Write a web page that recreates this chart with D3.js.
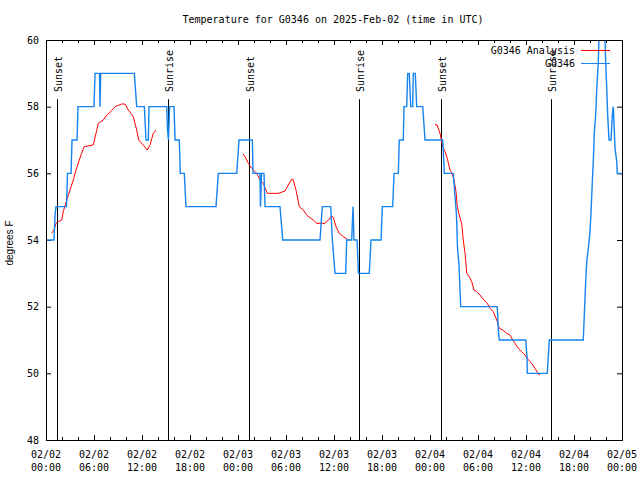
<!DOCTYPE html>
<html><head><meta charset="utf-8">
<script src="https://cdn.jsdelivr.net/npm/d3@7"></script>
<style>body{margin:0;background:#fff}</style>
</head><body>
<svg id="chart" width="640" height="480"></svg>
<script>
// ---- data ----
const titleText = "Temperature for G0346 on 2025-Feb-02 (time in UTC)";
const yLabel = "degrees F";
const startUTC = Date.UTC(2025, 1, 2);
const endUTC = Date.UTC(2025, 1, 5);

// Observations (hours since 02/02 00:00 UTC, degrees F)
const obsHours = [0,1.0,1.13,1.25,2.56,2.63,2.69,3.13,3.25,3.88,4.0,6.0,6.13,6.69,6.75,6.84,11.04,11.34,12.29,12.5,12.79,12.88,15.09,15.19,15.31,15.44,16.0,16.13,16.66,16.79,17.29,17.5,21.25,21.54,23.84,24.13,25.79,25.88,26.75,26.81,26.94,27.25,27.38,29.25,29.59,34.25,34.54,35.59,35.79,36.13,37.46,37.59,38.21,38.38,38.5,38.88,39.06,40.41,40.63,41.88,42.04,43.34,43.5,44.04,44.16,44.66,44.75,45.09,45.21,45.41,45.59,45.84,45.91,46.16,46.34,47.09,47.38,49.59,49.79,50.91,51.13,51.31,51.44,51.63,51.75,51.84,56.41,56.54,56.66,59.96,60.13,60.16,62.66,62.91,67.16,67.29,67.46,67.59,67.79,68.0,68.13,68.29,68.41,68.54,68.71,68.84,69.04,69.16,69.81,69.96,70.09,70.21,70.38,70.63,70.79,70.91,71.0,71.13,71.34,71.41,71.96];
const obsTemps = [54,54,54.75,55,55,55.5,56,56,57,57,58,58,59,59,58,59,59,58,58,57,57,58,58,57.3,57,58,58,57,57,56,56,55,55,56,56,57,57,56,56,55,56,56,55,55,54,54,55,55,54,53,53,54,54,55,54,54,53,53,54,54,55,55,56,56,57,57,58,58,59,59,58,58,59,59,58,58,57,57,56,56,55.3,54.75,53.75,53.25,52.5,52,52,51.3,51,51,50.5,50,50,51,51,51.75,52.75,53.35,53.75,54.25,54.85,55.75,56.35,57.25,57.75,58.5,59.35,60.5,60.5,59.35,58.55,57.75,57,57,57.75,58,57.5,56.75,56.35,56,56];

// Analysis (null = gap)
const anaHours = [0.69,1.0,1.25,1.54,1.96,2.16,2.59,3.0,3.41,3.75,4.16,4.46,4.75,5.91,6.25,6.54,7.16,7.59,8.09,8.63,9.46,9.88,10.29,10.91,11.34,11.59,12.16,12.66,13.0,13.41,13.75,
  null,
  24.66,25.0,25.29,25.71,26.34,26.75,27.16,27.66,29.04,29.88,30.29,30.71,30.88,31.25,31.66,32.16,32.66,33.41,33.84,34.88,35.29,35.71,35.91,36.25,36.66,37.16,37.79,
  null,
  48.63,48.88,49.25,49.59,49.88,50.16,50.5,50.75,51.0,51.25,51.41,51.66,51.96,52.16,52.38,52.59,52.91,53.21,53.5,53.84,54.25,54.75,55.16,55.5,55.91,56.34,56.66,57.09,57.59,58.0,58.34,58.63,59.04,59.46,59.88,60.29,60.71,61.13,61.54,61.75];
const anaTemps = [54.2,54.3,54.5,54.55,54.6,54.85,55.2,55.5,55.8,56.1,56.4,56.6,56.8,56.85,57.2,57.5,57.6,57.75,57.85,58.0,58.08,58.08,57.9,57.7,57.3,57.0,56.85,56.7,56.85,57.2,57.3,
  null,
  56.58,56.45,56.3,56.15,56.0,55.8,55.7,55.4,55.4,55.47,55.65,55.82,55.82,55.5,55.0,54.9,54.73,54.6,54.5,54.5,54.6,54.72,54.68,54.4,54.2,54.1,54.0,
  null,
  57.47,57.45,57.2,56.8,56.65,56.45,56.1,56.0,55.8,55.45,55.0,54.75,54.5,54.0,53.6,53.0,52.9,52.75,52.5,52.45,52.35,52.2,52.1,51.95,51.85,51.6,51.35,51.3,51.2,51.15,51.0,50.9,50.75,50.65,50.55,50.4,50.3,50.15,49.98,49.95];

const sunHours = [1.41, 15.29, 25.41, 39.16, 49.41, 63.16];
const sunLabels = ["Sunset","Sunrise","Sunset","Sunrise","Sunset","Sunrise"];
const yTicks = [48,50,52,54,56,58,60];
const seriesNames = ["G0346 Analysis", "G0346"];
const seriesColors = ["#ff0000", "#1584f0"];

// ---- layout ----
const margin = {left: 46, top: 40, right: 18, bottom: 40};
const W = 640, H = 480;
const pw = W - margin.left - margin.right;   // 576
const ph = H - margin.top - margin.bottom;   // 400
const mono = "'DejaVu Sans Mono', monospace";
const sans = "'Liberation Sans', Arial, sans-serif";

const svg = d3.select("#chart");
const g = svg.append("g").attr("transform", `translate(${margin.left},${margin.top})`);

const toDate = h => new Date(startUTC + h * 3600e3);
const x = d3.scaleUtc().domain([new Date(startUTC), new Date(endUTC)]).range([0, pw]);
const y = d3.scaleLinear().domain([48, 60]).range([ph, 0]);

const majorX = d3.utcHour.every(6).range(new Date(startUTC), new Date(endUTC + 1));
const minorX = d3.utcHour.every(2).range(new Date(startUTC), new Date(endUTC + 1)).filter(d => d.getUTCHours() % 6 !== 0);

// title
svg.append("text").attr("x", 333).attr("y", 23).attr("text-anchor", "middle")
  .style("font-family", mono).style("font-size", "10px").text(titleText);

// y label
svg.append("text").attr("transform", "translate(13,243) rotate(-90)").attr("text-anchor", "middle")
  .style("font-family", sans).style("font-size", "10px").text(yLabel);

// axes
function styleAxis(sel) {
  sel.select(".domain").remove();
  sel.selectAll("line").attr("stroke", "#000");
}
g.append("g").attr("transform", `translate(0,${ph})`)
  .call(d3.axisBottom(x).tickValues(majorX).tickSize(-5).tickFormat(""))
  .call(styleAxis);
g.append("g").attr("transform", `translate(0,${ph})`)
  .call(d3.axisBottom(x).tickValues(minorX).tickSize(-3).tickFormat(""))
  .call(styleAxis);
g.append("g")
  .call(d3.axisTop(x).tickValues(majorX).tickSize(-5).tickFormat(""))
  .call(styleAxis);
g.append("g")
  .call(d3.axisTop(x).tickValues(minorX).tickSize(-3).tickFormat(""))
  .call(styleAxis);

const yAx = g.append("g")
  .call(d3.axisLeft(y).tickValues(yTicks).tickSize(-5).tickPadding(7).tickFormat(d3.format("d")))
  .call(styleAxis);
yAx.selectAll("text").style("font-family", mono).style("font-size", "10px").attr("fill", "#000");
g.append("g").attr("transform", `translate(${pw},0)`)
  .call(d3.axisRight(y).tickValues(yTicks).tickSize(-5).tickFormat(""))
  .call(styleAxis);

// x tick labels (two lines)
const fmtDay = d3.utcFormat("%m/%d"), fmtTime = d3.utcFormat("%H:%M");
const xl = g.append("g").selectAll("text").data(majorX).join("text")
  .attr("x", d => x(d)).attr("y", ph + 17.5).attr("text-anchor", "middle")
  .style("font-family", mono).style("font-size", "10px");
xl.append("tspan").attr("x", d => x(d)).text(d => fmtDay(d));
xl.append("tspan").attr("x", d => x(d)).attr("dy", 13).text(d => fmtTime(d));

// clip
svg.append("defs").append("clipPath").attr("id", "plotclip")
  .append("rect").attr("x", 0).attr("y", 0).attr("width", pw).attr("height", ph);

// sunrise / sunset lines
const sun = g.append("g");
sunHours.forEach((h, i) => {
  const sx = Math.round(x(toDate(h))) + 0.5;
  sun.append("line").attr("x1", sx).attr("x2", sx).attr("y1", ph * (1 - 0.852)).attr("y2", ph)
    .attr("stroke", "#000").attr("stroke-width", 1);
  sun.append("text").attr("transform", `translate(${sx + 4.5},${ph * (1 - 0.87)}) rotate(-90)`)
    .attr("text-anchor", "start").style("font-family", mono).style("font-size", "10px")
    .text(sunLabels[i]);
});

// series
const obs = obsHours.map((h, i) => ({t: toDate(h), v: obsTemps[i]}));
const ana = anaHours.map((h, i) => ({t: h === null ? null : toDate(h), v: anaTemps[i]}));
const line = d3.line().defined(d => d.t !== null && d.v !== null).x(d => x(d.t)).y(d => y(d.v));

const plot = g.append("g").attr("clip-path", "url(#plotclip)");
plot.append("path").datum(ana).attr("d", line).attr("fill", "none")
  .attr("stroke", seriesColors[0]).attr("stroke-width", 1);
plot.append("path").datum(obs).attr("d", line).attr("fill", "none")
  .attr("stroke", seriesColors[1]).attr("stroke-width", 1.4);

// border
g.append("rect").attr("x", 0.5).attr("y", 0.5).attr("width", pw).attr("height", ph)
  .attr("fill", "none").attr("stroke", "#000").attr("stroke-width", 1);

// legend
const leg = svg.append("g");
seriesNames.forEach((name, i) => {
  const ly = 50 + i * 13;
  leg.append("text").attr("x", 575).attr("y", ly + 3.5).attr("text-anchor", "end")
    .style("font-family", mono).style("font-size", "10px").text(name);
  leg.append("line").attr("x1", 581).attr("x2", 610).attr("y1", ly + 0.5).attr("y2", ly + 0.5)
    .attr("stroke", seriesColors[i]).attr("stroke-width", 1);
});
</script>
</body></html>
